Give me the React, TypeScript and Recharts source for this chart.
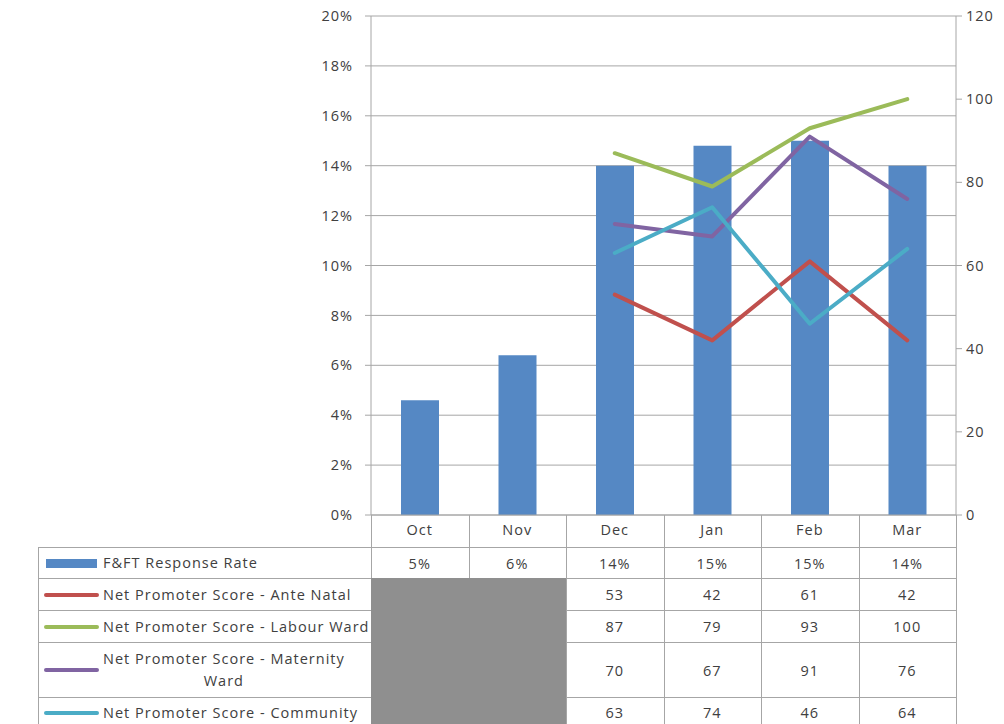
import {
  ComposedChart,
  Bar,
  Line,
  XAxis,
  YAxis,
  CartesianGrid,
} from "recharts";

const months = ["Oct", "Nov", "Dec", "Jan", "Feb", "Mar"];
const responseRate = [0.046, 0.064, 0.14, 0.148, 0.15, 0.14];
const anteNatal = [null, null, 53, 42, 61, 42];
const labourWard = [null, null, 87, 79, 93, 100];
const maternityWard = [null, null, 70, 67, 91, 76];
const community = [null, null, 63, 74, 46, 64];

const leftTicks = [0, 0.02, 0.04, 0.06, 0.08, 0.1, 0.12, 0.14, 0.16, 0.18, 0.2];
const rightTicks = [0, 20, 40, 60, 80, 100, 120];

const BLUE = "#5588C4";
const RED = "#C0504D";
const GREEN = "#9BBB59";
const PURPLE = "#8064A2";
const CYAN = "#4BACC6";
const GRID = "#A6A6A6";
const TEXT = "#404040";
const FONT = "'Open Sans', Lato, sans-serif";
const FSIZE = 14.5;
const SPACING = 1;

// plot geometry
const W = 1004;
const H = 724;
const PLOT_L = 371;
const PLOT_R = 956;
const PLOT_T = 16;
const AXIS_Y = 515;
const XROW_H = 32;
const TABLE_L = 38;
const band = (PLOT_R - PLOT_L) / months.length;

const data = months.map((m, i) => ({
  month: m,
  rate: responseRate[i],
  ante: anteNatal[i],
  labour: labourWard[i],
  maternity: maternityWard[i],
  community: community[i],
}));

const pct = (v: number) => `${Math.round(v * 100)}%`;

const rows = [
  { name: "F&FT Response Rate", color: BLUE, bar: true, values: responseRate.map(pct), h: 31 },
  { name: "Net Promoter Score - Ante Natal", color: RED, values: anteNatal, h: 32 },
  { name: "Net Promoter Score - Labour Ward", color: GREEN, values: labourWard, h: 32 },
  { name: "Net Promoter Score - Maternity\nWard", color: PURPLE, values: maternityWard, h: 55 },
  { name: "Net Promoter Score - Community", color: CYAN, values: community, h: 30 },
];

function DataTable() {
  const top0 = AXIS_Y + XROW_H;
  let y = top0;
  const rowTops = rows.map((r) => {
    const t = y;
    y += r.h;
    return t;
  });
  const bounds = months.map((_, i) => PLOT_L + band * i).concat([PLOT_R]);
  const lineStyle = { position: "absolute" as const, background: GRID };

  return (
    <div style={{ position: "absolute", left: 0, top: 0, width: W, height: H, fontFamily: FONT, fontSize: FSIZE, letterSpacing: SPACING, color: TEXT }}>
      {/* horizontal rules */}
      {rowTops.map((t, i) => (
        <div key={"h" + i} style={{ ...lineStyle, left: TABLE_L, top: t, width: PLOT_R - TABLE_L + 1, height: 1 }} />
      ))}
      {/* vertical rules */}
      <div style={{ ...lineStyle, left: TABLE_L, top: top0, width: 1, height: H - top0 }} />
      {bounds.map((x, i) => (
        <div key={"v" + i} style={{ ...lineStyle, left: Math.round(x), top: AXIS_Y, width: 1, height: H - AXIS_Y }} />
      ))}
      {/* no data block */}
      <div style={{ position: "absolute", left: PLOT_L, top: rowTops[1], width: Math.round(bounds[2]) - PLOT_L, height: H - rowTops[1], background: "#8F8F8F" }} />
      {rows.map((r, i) => (
        <div key={"r" + i}>
          <div style={{ position: "absolute", left: TABLE_L + 1, top: rowTops[i] + 1, width: PLOT_L - TABLE_L - 1, height: r.h - 1, display: "flex", alignItems: "center" }}>
            {r.bar ? (
              <div style={{ marginLeft: 7, flex: "none", width: 51, height: 9, background: r.color }} />
            ) : (
              <div style={{ marginLeft: 5, flex: "none", width: 55, height: 4, borderRadius: 2, background: r.color }} />
            )}
            <div style={{ marginLeft: r.bar ? 6 : 4, display: "inline-block", textAlign: "center", whiteSpace: "pre", lineHeight: "22px" }}>
              {r.name}
            </div>
          </div>
          {r.values.map((v, j) =>
            v === null ? null : (
              <div key={j} style={{ position: "absolute", left: bounds[j], top: rowTops[i] + 1, width: band, height: r.h - 1, display: "flex", alignItems: "center", justifyContent: "center" }}>
                {v}
              </div>
            )
          )}
        </div>
      ))}
    </div>
  );
}

export default function App() {
  const tickStyle = { fill: TEXT, fontSize: FSIZE, fontFamily: FONT, letterSpacing: SPACING };
  return (
    <div style={{ position: "absolute", left: 0, top: 0, width: W, height: H, overflow: "hidden", background: "#fff" }}>
      <ComposedChart
        width={W}
        height={H}
        data={data}
        margin={{ top: PLOT_T, right: 0, bottom: H - AXIS_Y - XROW_H, left: 0 }}
      >
        <CartesianGrid yAxisId="left" vertical={false} stroke={GRID} />
        <XAxis
          dataKey="month"
          height={XROW_H}
          interval={0}
          tickSize={0}
          tickMargin={10}
          axisLine={{ stroke: GRID }}
          tick={tickStyle}
        />
        <YAxis
          yAxisId="left"
          orientation="left"
          width={PLOT_L}
          domain={[0, 0.2]}
          ticks={leftTicks}
          tickFormatter={pct}
          tickSize={6}
          tickMargin={12}
          axisLine={{ stroke: GRID }}
          tickLine={{ stroke: GRID }}
          tick={tickStyle}
        />
        <YAxis
          yAxisId="right"
          orientation="right"
          width={W - PLOT_R}
          domain={[0, 120]}
          ticks={rightTicks}
          tickSize={6}
          tickMargin={4}
          axisLine={{ stroke: GRID }}
          tickLine={{ stroke: GRID }}
          tick={{ ...tickStyle, textAnchor: "start" }}
        />
        <Bar yAxisId="left" dataKey="rate" fill={BLUE} barSize={38} isAnimationActive={false} />
        <Line yAxisId="right" dataKey="ante" stroke={RED} strokeWidth={4} strokeLinecap="round" strokeLinejoin="round" dot={false} activeDot={false} isAnimationActive={false} />
        <Line yAxisId="right" dataKey="labour" stroke={GREEN} strokeWidth={4} strokeLinecap="round" strokeLinejoin="round" dot={false} activeDot={false} isAnimationActive={false} />
        <Line yAxisId="right" dataKey="maternity" stroke={PURPLE} strokeWidth={4} strokeLinecap="round" strokeLinejoin="round" dot={false} activeDot={false} isAnimationActive={false} />
        <Line yAxisId="right" dataKey="community" stroke={CYAN} strokeWidth={4} strokeLinecap="round" strokeLinejoin="round" dot={false} activeDot={false} isAnimationActive={false} />
      </ComposedChart>
      <DataTable />
    </div>
  );
}
